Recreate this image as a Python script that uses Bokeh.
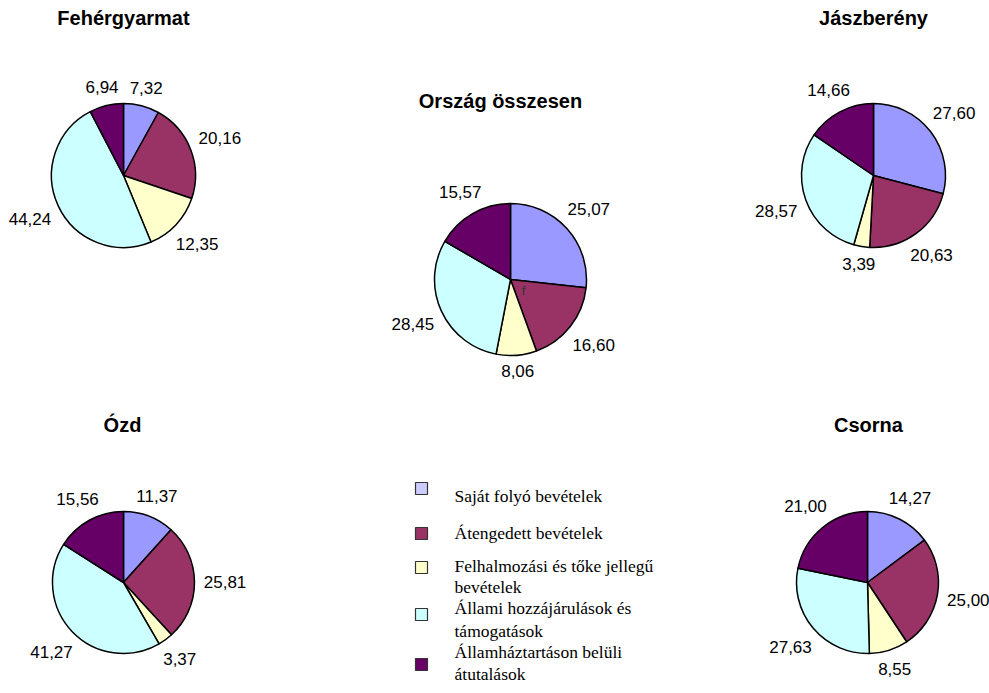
import math
from bokeh.plotting import figure
from bokeh.models import Range1d, ColumnDataSource
from bokeh.embed import file_html
from bokeh.resources import INLINE
from bokeh.core.properties import value

# ---------------- data ----------------
categories = [
    "Saját folyó bevételek",
    "Átengedett bevételek",
    "Felhalmozási és tőke jellegű bevételek",
    "Állami hozzájárulások és támogatások",
    "Államháztartáson belüli átutalások",
]
legend_lines = [
    ["Saját folyó bevételek"],
    ["Átengedett bevételek"],
    ["Felhalmozási és tőke jellegű", "bevételek"],
    ["Állami hozzájárulások és", "támogatások"],
    ["Államháztartáson belüli", "átutalások"],
]
regions = ["Fehérgyarmat", "Ország összesen", "Jászberény", "Ózd", "Csorna"]
feherg = [7.32, 20.16, 12.35, 44.24, 6.94]
orszag = [25.07, 16.60, 8.06, 28.45, 15.57]
jaszb = [27.60, 20.63, 3.39, 28.57, 14.66]
ozd = [11.37, 25.81, 3.37, 41.27, 15.56]
csorna = [14.27, 25.00, 8.55, 27.63, 21.00]
series = [feherg, orszag, jaszb, ozd, csorna]

pie_colors = ["#9999FF", "#993366", "#FFFFCC", "#CCFFFF", "#660066"]
legend_colors = ["#CCCCFF", "#993366", "#FFFFCC", "#CCFFFF", "#660066"]

# ---------------- layout (page pixel coords) ----------------
W, H = 989, 693
def fx(x):
    return x
def fy(y):
    return H - y

layout = {
    "Fehérgyarmat":    dict(cx=123, cy=175, r=72, tx=123, ty=17),
    "Ország összesen": dict(cx=510, cy=279, r=76, tx=500, ty=100),
    "Jászberény":      dict(cx=873, cy=175, r=72, tx=873, ty=17),
    "Ózd":             dict(cx=123, cy=582, r=71, tx=122, ty=424),
    "Csorna":          dict(cx=867, cy=582, r=71, tx=868, ty=424),
}

p = figure(width=W, height=H, output_backend="svg", toolbar_location=None,
           x_range=Range1d(0, W), y_range=Range1d(0, H),
           min_border=0, min_border_left=0, min_border_right=0,
           min_border_top=0, min_border_bottom=0)
p.axis.visible = False
p.grid.visible = False
p.outline_line_color = None
p.background_fill_color = "white"
p.border_fill_color = "white"

LABEL_FONT = value("Liberation Sans")
LBL_SIZE = 17

def fmt(v):
    return f"{v:.2f}".replace(".", ",")

for name, vals in zip(regions, series):
    L = layout[name]
    total = sum(vals)
    cx, cy, r = fx(L["cx"]), fy(L["cy"]), L["r"]
    starts, ends, lx, ly, texts = [], [], [], [], []
    cum = 0.0
    for v in vals:
        a0 = math.pi / 2 - 2 * math.pi * cum / total
        cum += v
        a1 = math.pi / 2 - 2 * math.pi * cum / total
        starts.append(a0)
        ends.append(a1)
        mid = (a0 + a1) / 2
        c, s = math.cos(mid), math.sin(mid)
        t = fmt(v)
        w = len(t) * 0.53 * LBL_SIZE
        h = 13
        d = r + 8 + abs(c) * w / 2 + abs(s) * h / 2
        lx.append(cx + d * c)
        ly.append(cy + d * s)
        texts.append(t)
    src = ColumnDataSource(dict(start=starts, end=ends, color=pie_colors))
    p.wedge(x=cx, y=cy, radius=r, radius_units="screen",
            start_angle="start", end_angle="end", direction="clock",
            fill_color="color", line_color="black", line_width=1.5, source=src)
    p.text(x=lx, y=ly, text=texts, text_font=LABEL_FONT,
           text_font_size=f"{LBL_SIZE}px", text_align="center",
           text_baseline="middle", text_color="black")
    p.text(x=[fx(L["tx"])], y=[fy(L["ty"])], text=[name], text_font=LABEL_FONT,
           text_font_size="20px", text_font_style="bold", text_align="center",
           text_baseline="middle", text_color="black")

# stray mark visible in the reference
p.text(x=[fx(523)], y=[fy(290)], text=["f"], text_font=LABEL_FONT,
       text_font_size="13px", text_align="center", text_baseline="middle",
       text_color="#333333")

# ---------------- legend ----------------
swatch_y = [488, 533, 567, 614, 664]
line_y = [[495], [532], [565, 586], [607, 630], [651, 673]]
p.rect(x=[fx(421)] * 5, y=[fy(v) for v in swatch_y], width=12, height=12,
       width_units="screen", height_units="screen",
       fill_color=legend_colors, line_color="#333333", line_width=1.2)
tx, ty, tt = [], [], []
for lines, ys in zip(legend_lines, line_y):
    for ln, yy in zip(lines, ys):
        tx.append(fx(454))
        ty.append(fy(yy))
        tt.append(ln)
p.text(x=tx, y=ty, text=tt, text_font=value("Liberation Serif"),
       text_font_size="17.5px", text_align="left", text_baseline="middle",
       text_color="black")

open("out.html", "w").write(file_html(p, INLINE))
